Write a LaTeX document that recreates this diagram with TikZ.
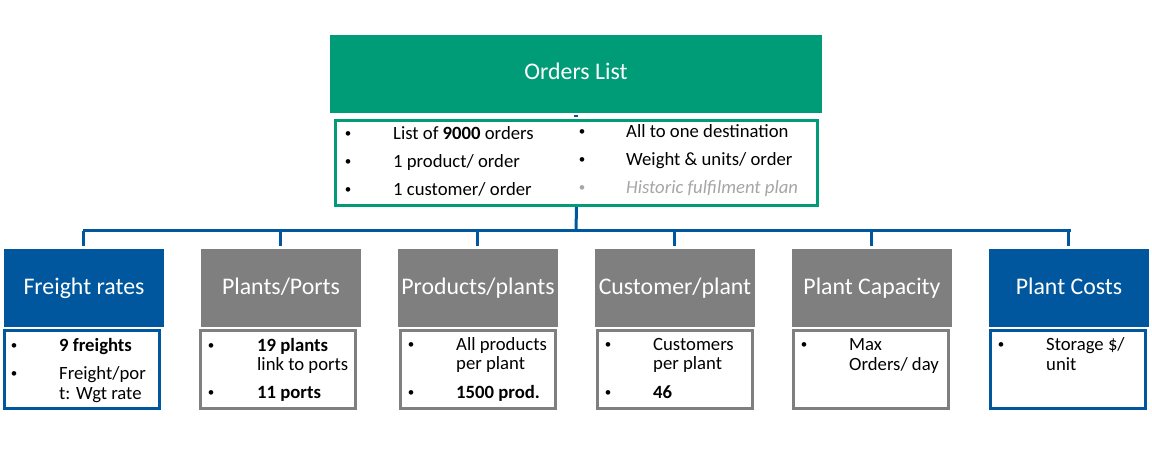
\documentclass[tikz,border=0pt]{standalone}
\usepackage{fontspec}
\setmainfont{Carlito}
\usetikzlibrary{calc}
\definecolor{ogreen}{RGB}{0,155,119}
\definecolor{oblue}{RGB}{0,87,158}
\definecolor{ogray}{RGB}{127,127,127}
\definecolor{lgray}{RGB}{166,166,166}
\tikzset{
  hdr/.style={fill=#1, text=white, minimum width=160pt, minimum height=78pt, inner sep=0pt,
    text height=17pt, text depth=5pt, font=\fontsize{23.8}{28}\selectfont},
  dbox/.style={draw=#1, line width=3pt, fill=white, minimum width=155pt, minimum height=78pt, inner sep=0pt},
  conn/.style={draw=oblue, line width=3pt},
  txt/.style={anchor=base west, inner sep=0pt, font=\fontsize{18.7}{22}\selectfont},
  bul/.style={anchor=base, inner sep=0pt, yshift=2pt, font=\fontsize{13}{15}\selectfont},
}
\begin{document}
\begin{tikzpicture}[x=1pt,y=-1pt]
\useasboundingbox (0,0) rectangle (1152,459);
% top
\node[fill=ogreen, text=white, minimum width=492pt, minimum height=78pt, inner sep=0pt,
  text height=17pt, text depth=5pt, font=\fontsize{23.8}{28}\selectfont] (top) at (576,73.5) {Orders List};
\node[draw=ogreen, line width=3pt, fill=white, minimum width=482pt, minimum height=85pt, inner sep=0pt]
  (det) at (576.5,163) {};
\draw[draw=oblue, line width=2pt] ($(det.north)+(-2.5,-3.5)$) coordinate (tk) -- ++(4,0);
% details text
\node[bul] (b1) at (348,139) {•};
\node[txt] (t1) at (393,139) {List of \textbf{9000} orders};
\node[bul] (b2) at (348,167) {•};
\node[txt] (t2) at (393,167) {1 product/ order};
\node[bul] (b3) at (348,195) {•};
\node[txt] (t3) at (393,195) {1 customer/ order};
\node[bul] (b4) at (582,137) {•};
\node[txt] (t4) at (626,137) {All to one destination};
\node[bul] (b5) at (582,165) {•};
\node[txt] (t5) at (626,165) {Weight \& units/ order};
\node[bul, text=lgray] (b6) at (582,193) {•};
\node[txt, text=lgray] (t6) at (626,193) {\itshape Historic fulfilment plan};
% headers
\node[hdr=oblue] (h1) at (84,288) {Freight rates};
\node[hdr=ogray] (h2) at (281,288) {Plants/Ports};
\node[hdr=ogray] (h3) at (478,288) {Products/plants};
\node[hdr=ogray] (h4) at (675,288) {Customer/plant};
\node[hdr=ogray] (h5) at (872,288) {Plant Capacity};
\node[hdr=oblue] (h6) at (1069,288) {Plant Costs};
% detail boxes
\node[dbox=oblue] (d1) at (82,369.5) {};
\node[dbox=ogray] (d2) at (278,369.5) {};
\node[dbox=ogray] (d3) at (477.5,369.5) {};
\node[dbox=ogray] (d4) at (675,369.5) {};
\node[dbox=ogray] (d5) at (871,369.5) {};
\node[dbox=oblue] (d6) at (1068,369.5) {};
% connectors
\coordinate (bus) at (576,230.5);
\draw[conn] (det.south) -- (bus);
\draw[conn] ([xshift=-1.5pt]h1.north |- bus) -- ([xshift=1.5pt]h6.north |- bus);
\foreach \h in {h1,h2,h3,h4,h5,h6}{
  \draw[conn, shorten >=3pt] ([xshift=-1pt]\h.north |- bus) -- ([xshift=-1pt]\h.north);
}
% box texts
\node[bul] at (14,351) {•};
\node[txt] at (59,351) {\textbf{9 freights}};
\node[bul] at (14,379) {•};
\node[txt] at (59,379) {Freight/por};
\node[txt] at (59,399) {t: Wgt rate};

\node[bul] at (211,351) {•};
\node[txt] at (257,351) {\textbf{19 plants}};
\node[txt] at (257,370) {link to ports};
\node[bul] at (211,398) {•};
\node[txt] at (257,398) {\textbf{11 ports}};

\node[bul] at (411,350) {•};
\node[txt] at (456,350) {All products};
\node[txt] at (456,369) {per plant};
\node[bul] at (411,398) {•};
\node[txt] at (456,398) {\textbf{1500 prod.}};

\node[bul] at (608,350) {•};
\node[txt] at (653,350) {Customers};
\node[txt] at (653,369) {per plant};
\node[bul] at (608,398) {•};
\node[txt] at (653,398) {\textbf{46}};

\node[bul] at (804,350) {•};
\node[txt] at (849,350) {Max};
\node[txt] at (849,370) {Orders/ day};

\node[bul] at (1001,350) {•};
\node[txt] at (1046,350) {Storage \$/};
\node[txt] at (1046,370) {unit};
\end{tikzpicture}
\end{document}
